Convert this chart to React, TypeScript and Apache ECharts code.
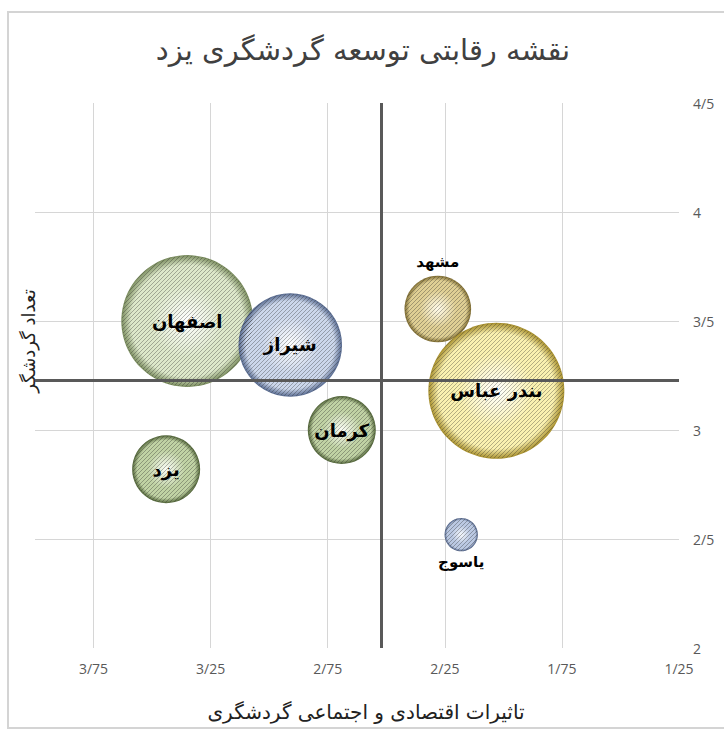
import React, { useEffect, useRef } from "react";
import * as echarts from "echarts";

const cities = ["اصفهان", "شیراز", "کرمان", "یزد", "مشهد", "بندر عباس", "یاسوج"];
const impact = [3.35, 2.91, 2.69, 3.44, 2.28, 2.03, 2.18];
const tourists = [3.5, 3.39, 3.0, 2.82, 3.555, 3.18, 2.52];
const bubbleSize = [94, 58, 25, 25, 24, 100, 6];
const impactAvg = 2.52;
const touristsAvg = 3.23;

const titleText = "نقشه رقابتی توسعه گردشگری یزد";
const xAxisTitle = "تاثیرات اقتصادی و اجتماعی گردشگری";
const yAxisTitle = "تعداد گردشگر";

const palette: Record<string, [string, string, string]> = {
  "اصفهان": ["#ffffff", "#dde8ca", "#7a8c5e"],
  "شیراز": ["#ffffff", "#ccd7eb", "#56698f"],
  "کرمان": ["#fbfdf6", "#c0d2a4", "#4f6236"],
  "یزد": ["#fbfdf6", "#c0d2a4", "#4f6236"],
  "مشهد": ["#fffbea", "#dfcf94", "#7d6b30"],
  "بندر عباس": ["#ffffff", "#faf1b0", "#a8902e"],
  "یاسوج": ["#f6f9fd", "#bac8e2", "#4a5c80"],
};

const labelPos: Record<string, string> = {
  "مشهد": "top",
  "یاسوج": "bottom",
};

const fa = (v: number) => String(v).replace(".", "/");

function makeStripes(): string {
  const c = document.createElement("canvas");
  const s = 4;
  c.width = s;
  c.height = s;
  const g = c.getContext("2d");
  if (!g) return "";
  g.strokeStyle = "rgba(30,30,30,0.32)";
  g.lineWidth = 1;
  g.beginPath();
  g.moveTo(-1, s + 1);
  g.lineTo(s + 1, -1);
  g.moveTo(-1, 1);
  g.lineTo(1, -1);
  g.moveTo(s - 1, s + 1);
  g.lineTo(s + 1, s - 1);
  g.stroke();
  return c.toDataURL();
}

const SIZE_K = 13.6;

export default function App() {
  const ref = useRef<HTMLDivElement>(null);
  useEffect(() => {
    if (!ref.current) return;
    const chart = echarts.init(ref.current, undefined, { renderer: "svg" });
    const stripes = makeStripes();
    const sizeFn = (val: number[]) => Math.sqrt(val[2]) * SIZE_K;
    const points = cities.map((c, i) => [impact[i], tourists[i], bubbleSize[i]]);
    const baseData = cities.map((c, i) => {
      const [inner, mid, outer] = palette[c];
      return {
        name: c,
        value: points[i],
        itemStyle: {
          color: {
            type: "radial",
            x: 0.5,
            y: 0.5,
            r: 0.5,
            colorStops: [
              { offset: 0, color: inner },
              { offset: 0.55, color: mid },
              { offset: 0.85, color: mid },
              { offset: 1, color: outer },
            ],
          },
        },
      };
    });
    const labelData = cities.map((c, i) => {
      const pos = labelPos[c] || "inside";
      return {
        name: c,
        value: points[i],
        label: {
          position: pos,
          distance: pos === "top" ? 6 : 3,
          fontSize: pos === "inside" ? 18 : 15,
        },
      };
    });
    chart.setOption({
      animation: false,
      backgroundColor: "#ffffff",
      graphic: [
        {
          type: "rect",
          shape: { x: 8, y: 12, width: 740, height: 716 },
          style: { fill: "none", stroke: "#d4d4d4", lineWidth: 2 },
          silent: true,
        },
        {
          type: "text",
          x: 363,
          y: 50,
          style: {
            text: titleText,
            fontFamily: "DejaVu Sans",
            fontSize: 29,
            fill: "#404040",
            align: "center",
            verticalAlign: "middle",
          },
        },
        {
          type: "text",
          x: 366,
          y: 712,
          style: {
            text: xAxisTitle,
            fontFamily: "DejaVu Sans",
            fontSize: 20,
            fill: "#222222",
            align: "center",
            verticalAlign: "middle",
          },
        },
        {
          type: "text",
          x: 28,
          y: 341,
          rotation: Math.PI / 2,
          style: {
            text: yAxisTitle,
            fontFamily: "DejaVu Sans",
            fontSize: 18,
            fill: "#222222",
            align: "center",
            verticalAlign: "middle",
          },
        },
      ],
      grid: { left: 35, right: 45, top: 103, bottom: 81 },
      xAxis: {
        type: "value",
        inverse: true,
        min: 1.25,
        max: 4,
        interval: 0.5,
        axisLine: { show: false },
        axisTick: { show: false },
        axisLabel: {
          showMaxLabel: false,
          margin: 13,
          color: "#595959",
          fontSize: 14,
          fontFamily: "Open Sans",
          formatter: (v: number) => fa(v),
        },
        splitLine: {
          show: true,
          showMinLine: false,
          showMaxLine: false,
          lineStyle: { color: "#d6d6d6", width: 1 },
        },
      },
      yAxis: {
        type: "value",
        position: "right",
        min: 2,
        max: 4.5,
        interval: 0.5,
        axisLine: { show: false },
        axisTick: { show: false },
        axisLabel: {
          margin: 14,
          color: "#595959",
          fontSize: 14,
          fontFamily: "Open Sans",
          formatter: (v: number) => fa(v),
        },
        splitLine: {
          show: true,
          showMinLine: false,
          showMaxLine: false,
          lineStyle: { color: "#d6d6d6", width: 1 },
        },
      },
      series: [
        {
          type: "scatter",
          data: baseData,
          symbolSize: sizeFn,
          itemStyle: { opacity: 1 },
          markLine: {
            silent: true,
            symbol: ["none", "none"],
            label: { show: false },
            lineStyle: { color: "#595959", width: 3, type: "solid" },
            data: [{ xAxis: impactAvg }, { yAxis: touristsAvg }],
          },
          z: 3,
        },
        {
          type: "custom",
          data: points,
          silent: true,
          z: 4,
          renderItem: (params: any, api: any) => {
            const p = api.coord([api.value(0), api.value(1)]);
            const r = (Math.sqrt(api.value(2)) * SIZE_K) / 2;
            return {
              type: "circle",
              shape: { cx: p[0], cy: p[1], r: r - 0.5 },
              style: { fill: { image: stripes, repeat: "repeat" } },
            };
          },
        },
        {
          type: "scatter",
          data: labelData,
          symbolSize: sizeFn,
          silent: true,
          itemStyle: { color: "rgba(0,0,0,0)", opacity: 1 },
          label: {
            show: true,
            formatter: "{b}",
            fontFamily: "DejaVu Sans",
            fontWeight: "bold",
            color: "#000000",
            opacity: 1,
          },
          z: 5,
        },
      ],
    });
    return () => chart.dispose();
  }, []);
  return (
    <div
      ref={ref}
      style={{ position: "fixed", left: 0, top: 0, width: 724, height: 729 }}
    />
  );
}
